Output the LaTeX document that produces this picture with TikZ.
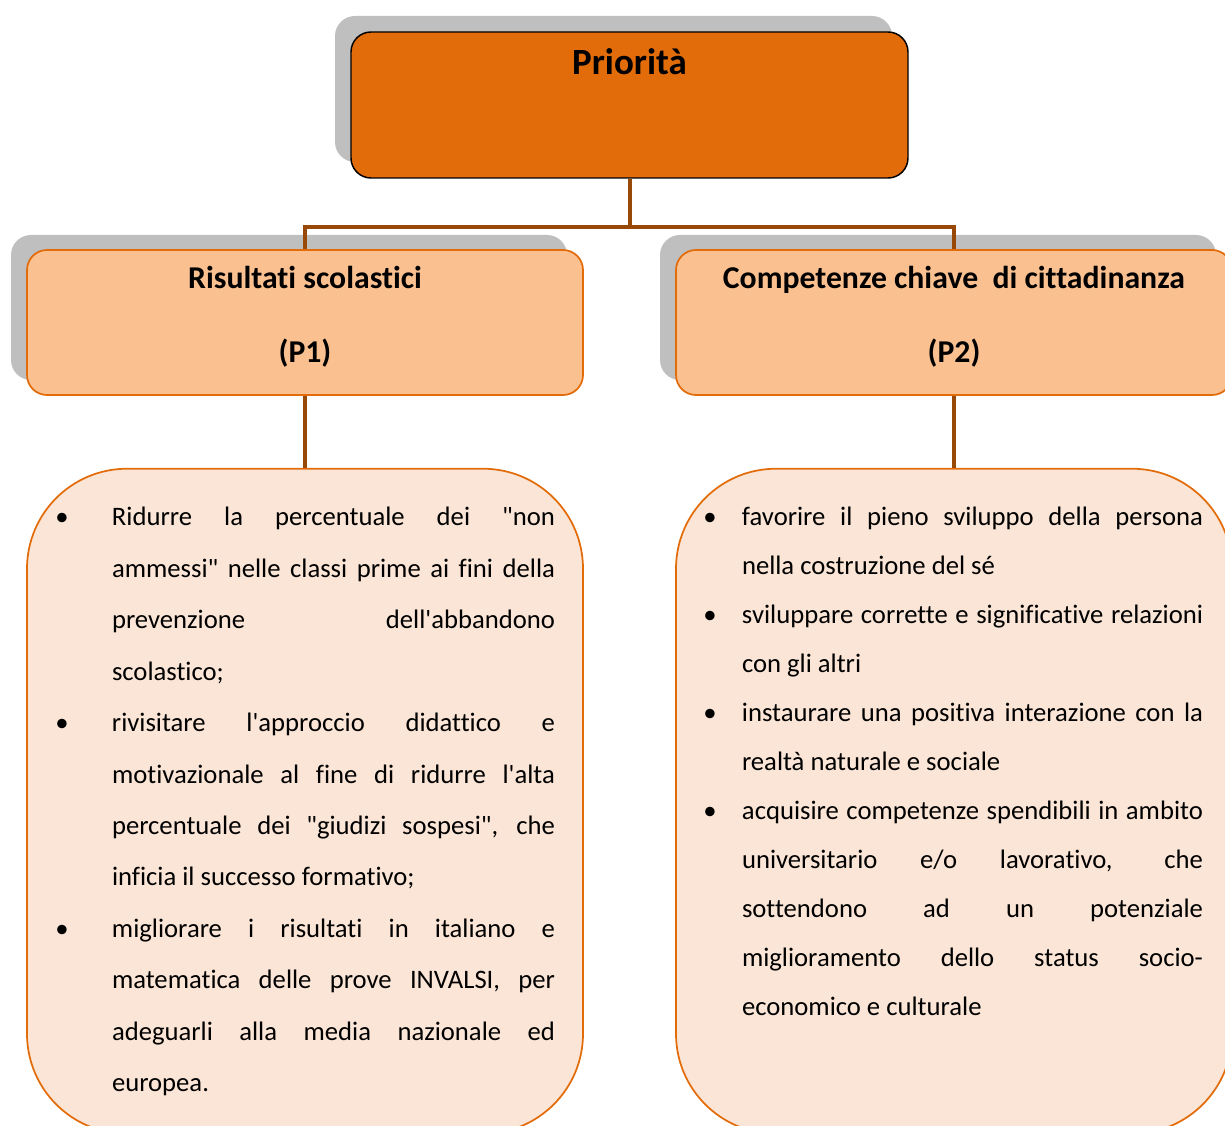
\documentclass[tikz,border=0pt]{standalone}
\usepackage{fontspec}
\setmainfont{Carlito}[Ligatures={TeXOff,NoCommon}]
\usetikzlibrary{positioning,shadows}
\hbadness=10000

\definecolor{arancio}{HTML}{E36C0A}
\definecolor{pesca}{HTML}{FAC090}
\definecolor{crema}{HTML}{FBE5D6}
\definecolor{marrone}{HTML}{984807}
\definecolor{ombra}{HTML}{BFBFBF}

% one justified line, one last line, one bullet
\newcommand{\riga}[1]{\hbox to \hsize{#1}}
\newcommand{\fine}[1]{\hbox{#1}}
\newcommand{\punto}[1]{\llap{\makebox[0pt]{\textbullet}\hspace{#1}}}

\tikzset{
  prio/.style  ={rectangle,draw=black,line width=1.1pt,fill=arancio,rounded corners=15pt,
                 inner sep=0pt,minimum width=417.75pt,text height=32.25pt,text depth=77.25pt,
                 font=\fontsize{27.75}{33}\selectfont\bfseries,
                 general shadow={fill=ombra,shadow xshift=-12pt,shadow yshift=12pt}},
  area/.style  ={rectangle,draw=arancio,line width=1.3pt,fill=pesca,rounded corners=15pt,
                 inner sep=0pt,text width=417pt,align=flush center,text height=29.25pt,text depth=79.5pt,
                 font=\fontsize{23.8}{55.5}\selectfont\bfseries,
                 general shadow={fill=ombra,shadow xshift=-12pt,shadow yshift=11.25pt}},
  elenco/.style={rectangle,draw=arancio,line width=1.3pt,fill=crema,rounded corners=75pt,
                 inner sep=0pt,text width=417pt,align=flush left,text height=42.75pt,text depth=456pt},
  ramo/.style  ={draw=marrone,line width=3pt}
}

\begin{document}
\begin{tikzpicture}[x=0.75pt,y=-0.75pt]
\useasboundingbox (0,0) rectangle (1225,1126);
\clip (0,0) rectangle (1225,1126);

% -------- priorita --------
\node[prio] (prio) at (629.5,105) {Priorità};

% -------- aree (P1, P2) --------
\node[area] (p1) at (305,322.5) {Risultati scolastici\\(P1)};
\node[area] (p2) at (954,322.5) {Competenze chiave~ di cittadinanza\\(P2)};

% -------- obiettivi --------
\node[elenco, below=54pt of p1] (d1) {\hspace*{63.75pt}\vtop{\hsize=332.25pt\spaceskip=0pt\xspaceskip=0pt
  \fontsize{20}{38.6}\selectfont
  \riga{\punto{37.5pt}Ridurre la percentuale dei "non}
  \riga{ammessi" nelle classi prime ai fini della}
  \riga{prevenzione dell'abbandono}
  \fine{scolastico;}
  \riga{\punto{37.5pt}rivisitare l'approccio didattico e}
  \riga{motivazionale al fine di ridurre l'alta}
  \riga{percentuale dei "giudizi sospesi", che}
  \fine{inficia il successo formativo;}
  \riga{\punto{37.5pt}migliorare i risultati in italiano e}
  \riga{matematica delle prove INVALSI, per}
  \riga{adeguarli alla media nazionale ed}
  \fine{europea.}}};

\node[elenco, below=54pt of p2] (d2) {\hspace*{49.5pt}\vtop{\hsize=345.75pt\spaceskip=0pt\xspaceskip=0pt
  \fontsize{20}{36.75}\selectfont
  \riga{\punto{24pt}favorire il pieno sviluppo della persona}
  \fine{nella costruzione del sé}
  \riga{\punto{24pt}sviluppare corrette e significative relazioni}
  \fine{con gli altri}
  \riga{\punto{24pt}instaurare una positiva interazione con la}
  \fine{realtà naturale e sociale}
  \riga{\punto{24pt}acquisire competenze spendibili in ambito}
  \riga{universitario e/o lavorativo, che}
  \riga{sottendono ad un potenziale}
  \riga{miglioramento dello status socio-}
  \fine{economico e culturale}}};

% wiring
\draw[ramo] (prio.south) -- ++(0,48) -| (p1.north);
\draw[ramo] (prio.south) -- ++(0,48) -| (p2.north);
\draw[ramo] (p1.south) -- (d1.north);
\draw[ramo] (p2.south) -- (d2.north);

\end{tikzpicture}
\end{document}
